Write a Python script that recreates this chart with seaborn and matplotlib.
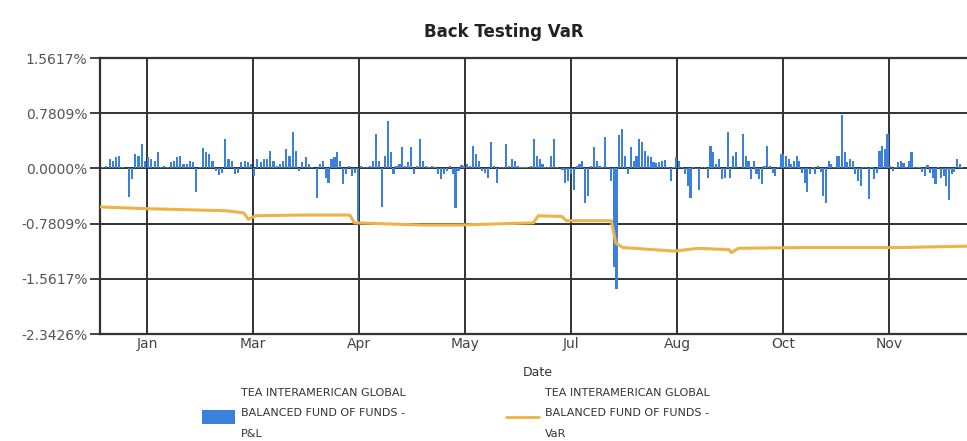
import matplotlib
matplotlib.use("Agg")
import matplotlib.pyplot as plt
import matplotlib.dates as mdates
from matplotlib.patches import Patch, Rectangle
from matplotlib.lines import Line2D
from matplotlib.legend_handler import HandlerBase
import pandas as pd
import seaborn as sns

# Daily P&L (%) left to right, one list per stretch of the year
pnl_q1 = [-0.25, 0.02, 0.04, 0.13, 0.10, 0.16, 0.18, 0.02, 0.01, -0.40,
          -0.15, 0.21, 0.18, 0.35, 0.11, 0.16, 0.13, 0.11, 0.23, 0.02,
          0.03, 0.02, 0.09, 0.11, 0.16, 0.18, 0.06, 0.06, 0.11, 0.09,
          -0.33, 0.015, 0.29, 0.23, 0.21, 0.11, -0.03, -0.10, -0.07, 0.42,
          0.13, 0.11, -0.08, -0.06, 0.09, 0.11, 0.09, 0.06, -0.11, 0.13,
          0.09, 0.13, 0.13, 0.25, 0.11, 0.04, 0.06, 0.11, 0.28, 0.18,
          0.52, 0.25, -0.03, 0.09, 0.16, 0.06, 0.015]
pnl_q2 = [-0.42, 0.06, 0.11, -0.13, -0.20, 0.13, 0.16, 0.23, 0.11, -0.22,
          -0.08, 0.04, -0.11, -0.06, -0.75, 0.03, 0.02, 0.02, 0.04, 0.11,
          0.48, 0.11, -0.54, 0.18, 0.67, 0.23, -0.08, 0.04, 0.06, 0.30,
          0.04, 0.09, 0.30, -0.08, 0.04, 0.41, 0.11, 0.04, 0.02, 0.03,
          0.02, -0.08, -0.15, -0.08, -0.03, 0.03, -0.08, -0.56, -0.03, 0.05,
          0.04, 0.06, 0.04, 0.32, 0.21, 0.11, -0.03, -0.06, -0.13, 0.37,
          0.04, -0.20, 0.02, 0.02, 0.35, 0.04, 0.13, 0.11, 0.03, 0.02,
          0.02, 0.02]
pnl_q3 = [0.03, 0.42, 0.18, 0.13, 0.06, 0.02, 0.02, 0.18, 0.42, 0.02,
          0.01, -0.02, -0.20, -0.18, -0.08, -0.30, 0.04, 0.06, 0.10, -0.49,
          -0.39, 0.03, 0.30, 0.11, 0.04, 0.02, 0.44, 0.02, -0.18, -1.40,
          -1.71, 0.47, 0.56, 0.18, -0.08, 0.30, 0.11, 0.18, 0.42, 0.37,
          0.25, 0.18, 0.16, 0.09, 0.08, 0.09, 0.11, 0.12, 0.02, -0.18,
          0.02, 0.16, 0.11, 0.02, -0.08, -0.25, -0.42, 0.02, -0.01, -0.30,
          0.02, 0.02, -0.13, 0.32, 0.23, 0.06, 0.13, -0.15, -0.14, 0.52,
          -0.13, 0.18, 0.23]
pnl_q4 = [0.49, 0.18, 0.11, -0.15, 0.11, -0.08, -0.15, -0.22, 0.04, 0.32,
          0.04, -0.06, -0.11, 0.02, 0.21, 0.21, 0.18, 0.13, 0.06, 0.10,
          0.18, 0.11, -0.06, -0.20, -0.34, -0.08, 0.02, -0.08, 0.04, -0.05,
          -0.39, -0.49, 0.11, 0.06, 0.02, 0.18, 0.18, 0.75, 0.23, 0.09,
          0.13, 0.11, -0.08, -0.18, -0.25, 0.02, 0.02, -0.43, 0.02, -0.15,
          -0.06, 0.25, 0.32, 0.28, 0.49, 0.03, -0.03, 0.02, 0.09, 0.11,
          0.08, 0.02, 0.10, 0.23, 0.02, 0.02, 0.02, -0.05, -0.11, 0.05,
          -0.06, -0.13, -0.22, 0.02, -0.13, -0.11, -0.25, -0.44, -0.08, -0.05,
          0.14, 0.06, 0.02]

# First and last observation date of each stretch
stretch_starts = ["2013-12-26", "2014-03-28", "2014-06-27", "2014-09-25"]
stretch_ends = ["2014-03-26", "2014-06-25", "2014-09-22", "2014-12-27"]

# VaR (%) at its turning points
var_dates = ["2013-12-26", "2014-01-15", "2014-02-18", "2014-02-25", "2014-02-27",
             "2014-03-02", "2014-03-21", "2014-04-11", "2014-04-13", "2014-05-11",
             "2014-05-28", "2014-06-28", "2014-06-30", "2014-07-10", "2014-07-12",
             "2014-07-31", "2014-08-02", "2014-08-05", "2014-08-27", "2014-09-06",
             "2014-09-19", "2014-09-20", "2014-09-23", "2014-10-19", "2014-11-30",
             "2014-12-29"]
var_values = [-0.545, -0.57, -0.60, -0.63, -0.72,
              -0.67, -0.66, -0.66, -0.77, -0.80,
              -0.80, -0.77, -0.67, -0.68, -0.74,
              -0.74, -1.06, -1.12, -1.17, -1.13,
              -1.15, -1.19, -1.13, -1.12, -1.12,
              -1.10]

# Axis ticks
x_tick_dates = ["2014-01-15", "2014-03-01", "2014-04-15", "2014-05-30",
                "2014-07-14", "2014-08-28", "2014-10-12", "2014-11-26"]
x_range = ["2013-12-26", "2014-12-29"]
y_ticks = [1.5617, 0.7809, 0.0, -0.7809, -1.5617, -2.3426]

series_names = ["TEA INTERAMERICAN GLOBAL\nBALANCED FUND OF FUNDS -\nP&L",
                "TEA INTERAMERICAN GLOBAL\nBALANCED FUND OF FUNDS -\nVaR"]

BLUE = "#3a80dc"
ORANGE = "#ecb447"
DARK = "#333333"


# Legend handler: multi-line labels, keep the swatch on the middle line
class LiftedHandle(HandlerBase):
    def __init__(self, lift):
        super().__init__()
        self.lift = lift

    def create_artists(self, legend, orig_handle, xdescent, ydescent,
                       width, height, fontsize, trans):
        if isinstance(orig_handle, Patch):
            art = Rectangle((-xdescent, self.lift - 5), width, 10,
                            facecolor = orig_handle.get_facecolor(),
                            edgecolor = "none", transform = trans)
        else:
            art = Line2D([-xdescent, -xdescent + width], [self.lift, self.lift],
                         color = orig_handle.get_color(),
                         linewidth = orig_handle.get_linewidth(), transform = trans)
        return [art]


# Build dataframes
stretches = [pnl_q1, pnl_q2, pnl_q3, pnl_q4]
frames = []
for vals, start, end in zip(stretches, stretch_starts, stretch_ends):
    dates = pd.date_range(start, end, periods = len(vals))
    frames.append(pd.DataFrame({"date": mdates.date2num(dates), "pnl": vals}))
df_pnl = pd.concat(frames, ignore_index = True)

df_var = pd.DataFrame({
    "date": mdates.date2num(pd.to_datetime(var_dates)),
    "var": var_values,
})

# Set chart style
sns.set_style("white")
plt.rcParams["font.family"] = ["DejaVu Sans"]

fig = plt.figure(figsize = (9.67, 4.41), dpi = 100)
ax = fig.add_axes([100 / 967, 1 - 334 / 441, 867 / 967, 276 / 441])

# Build chart
sns.barplot(
    data = df_pnl,
    x = "date",
    y = "pnl",
    native_scale = True,
    color = BLUE,
    saturation = 1,
    errorbar = None,
    width = 0.8,
    linewidth = 0,
    edgecolor = "none",
    ax = ax,
    zorder = 2,
)
sns.lineplot(
    data = df_var,
    x = "date",
    y = "var",
    color = ORANGE,
    linewidth = 2.2,
    ax = ax,
    zorder = 3,
)

# Axes
ax.set_xlim(mdates.date2num(pd.to_datetime(x_range)))
ax.set_ylim(-2.3426, 1.5617)
ax.set_yticks(y_ticks)
ax.set_yticklabels([f"{v:.4f}%" for v in y_ticks])
ax.set_xticks(mdates.date2num(pd.to_datetime(x_tick_dates)))
ax.xaxis.set_major_formatter(mdates.DateFormatter("%b"))

# Titles
ax.set_title("Back Testing VaR", fontsize = 12, fontweight = "bold", color = "#222222",
             x = (504 - 100) / 867, y = (334 - 37) / 276, pad = 0)
ax.set_xlabel("Date", fontsize = 9, color = DARK)
ax.xaxis.set_label_coords((538 - 100) / 867, (334 - 366) / 276)
ax.set_ylabel("")

# Design
ax.grid(True, color = DARK, linewidth = 1.4)
ax.set_axisbelow(True)
for side in ["left", "top", "bottom"]:
    ax.spines[side].set_color(DARK)
    ax.spines[side].set_linewidth(1.6)
ax.spines["right"].set_visible(False)
ax.tick_params(axis = "y", left = True, direction = "out", length = 7, width = 1.3,
               color = DARK, pad = 2, labelsize = 10, labelcolor = "#555555")
ax.tick_params(axis = "x", bottom = True, length = 0, pad = 2, labelsize = 10,
               labelcolor = "#444444")

# Legend
handles = [Patch(facecolor = BLUE), Line2D([], [], color = ORANGE, linewidth = 2)]
leg = fig.legend(
    handles,
    series_names,
    loc = "upper left",
    bbox_to_anchor = (202 / 967, 1 - 388 / 441),
    ncol = 2,
    frameon = False,
    fontsize = 8,
    handlelength = 2.97,
    handletextpad = 0.5,
    columnspacing = 9.1,
    borderpad = 0,
    borderaxespad = 0,
    handler_map = {Patch: LiftedHandle(0), Line2D: LiftedHandle(0)},
)
for t in leg.get_texts():
    t.set_linespacing(2.3)
    t.set_color(DARK)

fig.savefig("out.png", dpi = 100)
plt.close(fig)
